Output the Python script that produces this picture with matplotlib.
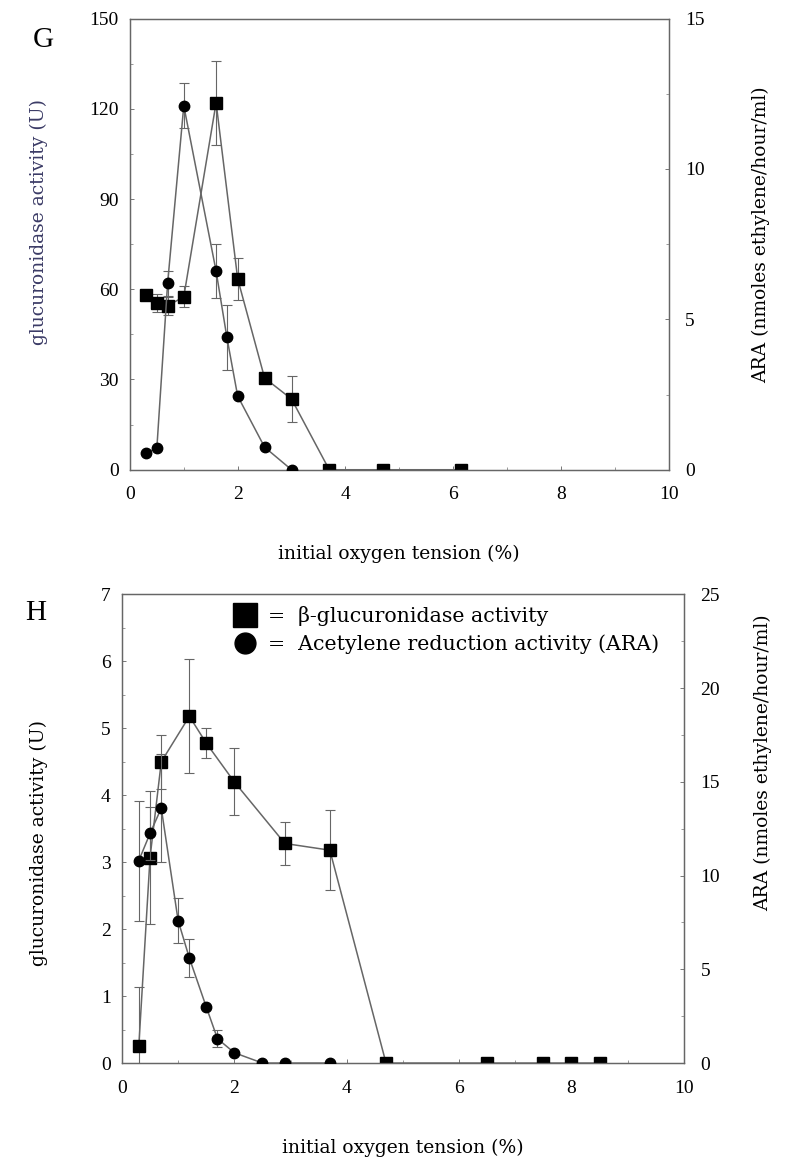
import matplotlib
matplotlib.use("Agg")
import matplotlib.pyplot as plt
from matplotlib.lines import Line2D
from matplotlib.ticker import MultipleLocator

plt.rcParams['font.family'] = ['Liberation Serif', 'DejaVu Serif']

# panel G data
g_gus_x = [0.3, 0.5, 0.7, 1.0, 1.6, 2.0, 2.5, 3.0, 3.7, 4.7, 6.15]
g_gus_y = [58, 55.5, 54.5, 57.5, 122, 63.5, 30.5, 23.5, 0, 0, 0]
g_gus_err = [0, 3, 3, 3.5, 14, 7, 0, 7.5, 0, 0, 0]
g_ara_x = [0.3, 0.5, 0.7, 1.0, 1.6, 1.8, 2.0, 2.5, 3.0]
g_ara_y = [0.55, 0.72, 6.2, 12.1, 6.6, 4.4, 2.45, 0.75, 0]
g_ara_err = [0, 0, 0.42, 0.75, 0.9, 1.07, 0, 0, 0]

# panel H data
h_gus_x = [0.3, 0.5, 0.7, 1.2, 1.5, 2.0, 2.9, 3.7, 4.7, 6.5, 7.5, 8.0, 8.5]
h_gus_y = [0.25, 3.07, 4.5, 5.18, 4.78, 4.2, 3.28, 3.18, 0, 0, 0, 0, 0]
h_gus_err = [0.88, 1.0, 0.4, 0.85, 0.22, 0.5, 0.32, 0.6, 0, 0, 0, 0, 0]
h_ara_x = [0.3, 0.5, 0.7, 1.0, 1.2, 1.5, 1.7, 2.0, 2.5, 2.9, 3.7]
h_ara_y = [10.8, 12.25, 13.6, 7.6, 5.6, 3.0, 1.3, 0.55, 0, 0, 0]
h_ara_err = [3.2, 1.4, 2.9, 1.2, 1.0, 0, 0.46, 0, 0, 0, 0]

line_c = '#666666'
tick_fs = 14
lab_font = {'family': 'DejaVu Serif', 'size': 13.5}

fig = plt.figure(figsize=(7.97, 11.57), dpi=100)


def panel(rect, gx, gy, ge, ax_x, ay, ae, lmax, lstep, lminor, rmax, rstep, rminor, lab_color):
    ax = fig.add_axes(rect)
    ax2 = ax.twinx()
    ax.errorbar(gx, gy, yerr=ge, fmt='none', ecolor=line_c, elinewidth=0.8, capsize=3.5, capthick=0.8)
    ax.plot(gx, gy, color=line_c, lw=1.1, marker='s', ms=8, mfc='black', mec='black', zorder=3)
    ax2.errorbar(ax_x, ay, yerr=ae, fmt='none', ecolor=line_c, elinewidth=0.8, capsize=3.5, capthick=0.8)
    ax2.plot(ax_x, ay, color=line_c, lw=1.1, marker='o', ms=7.5, mfc='black', mec='black', zorder=3)
    ax.set_xlim(0, 10)
    ax.set_ylim(0, lmax)
    ax2.set_ylim(0, rmax)
    ax.xaxis.set_major_locator(MultipleLocator(2))
    ax.xaxis.set_minor_locator(MultipleLocator(1))
    ax.yaxis.set_major_locator(MultipleLocator(lstep))
    ax.yaxis.set_minor_locator(MultipleLocator(lminor))
    ax2.yaxis.set_major_locator(MultipleLocator(rstep))
    ax2.yaxis.set_minor_locator(MultipleLocator(rminor))
    for a in (ax, ax2):
        a.tick_params(which='major', length=3, width=0.7, direction='in', labelsize=tick_fs,
                      colors='#777777', labelcolor='black')
        a.tick_params(which='minor', length=2, width=0.6, direction='in', colors='#888888')
        for s in a.spines.values():
            s.set_color('#666666')
            s.set_linewidth(0.9)
    ax.tick_params(axis='x', pad=12)
    ax.tick_params(axis='y', pad=8)
    ax2.tick_params(axis='y', pad=12)
    ax.set_xlabel('initial oxygen tension (%)', fontdict=lab_font, labelpad=30)
    ax.set_ylabel('glucuronidase activity (U)', fontdict=lab_font, color=lab_color)
    ax2.set_ylabel('ARA (nmoles ethylene/hour/ml)', fontdict=lab_font)
    return ax, ax2


axg, axg2 = panel([0.163, 0.594, 0.676, 0.39], g_gus_x, g_gus_y, g_gus_err,
                  g_ara_x, g_ara_y, g_ara_err, 150, 30, 15, 15, 5, 2.5, '#3b3b66')
axg.yaxis.set_label_coords(-0.152, 0.55)
axg2.yaxis.set_label_coords(1.155, 0.52)
fig.text(0.041, 0.9654, 'G', fontsize=21, va='center')

axh, axh2 = panel([0.153, 0.0812, 0.705, 0.405], h_gus_x, h_gus_y, h_gus_err,
                  h_ara_x, h_ara_y, h_ara_err, 7, 1, 0.5, 25, 5, 2.5, 'black')
axh.yaxis.set_label_coords(-0.132, 0.47)
axh2.yaxis.set_label_coords(1.125, 0.64)
fig.text(0.031, 0.4705, 'H', fontsize=21, va='center')

handles = [Line2D([], [], ls='none', marker='s', ms=17, mfc='black', mec='black'),
           Line2D([], [], ls='none', marker='o', ms=15, mfc='black', mec='black')]
axh2.legend(handles, ['=  β-glucuronidase activity', '=  Acetylene reduction activity (ARA)'],
            loc='upper left', bbox_to_anchor=(0.165, 1.015), frameon=False,
            prop={'family': 'DejaVu Serif', 'size': 14.8},
            handlelength=1.2, handletextpad=0.5, labelspacing=0.42)

fig.savefig('out.png', dpi=100)
